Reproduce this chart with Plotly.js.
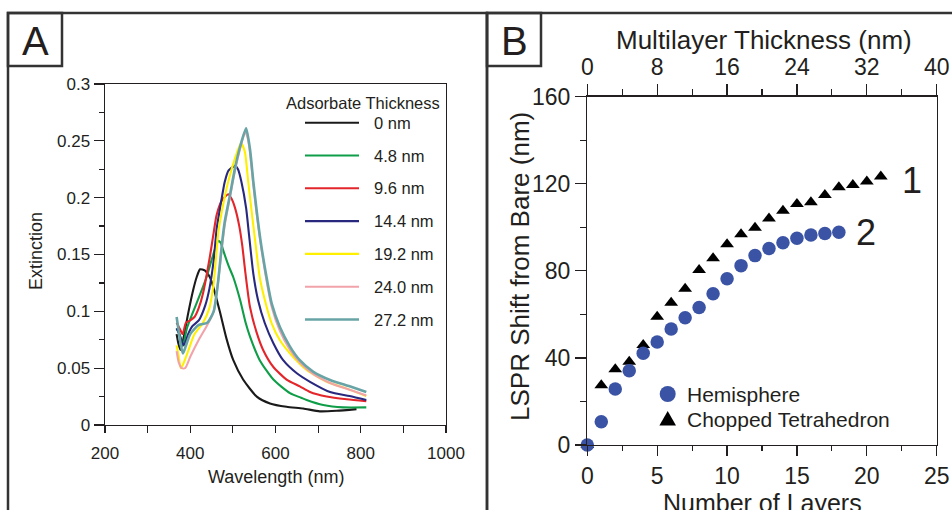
<!DOCTYPE html>
<html><head><meta charset="utf-8">
<script src="https://cdn.plot.ly/plotly-3.0.1.min.js"></script>
<style>html,body{margin:0;padding:0;background:#fff;}#chart{width:952px;height:510px;}</style>
</head><body><div id="chart"></div>
<script>
// ---------- Panel A: extinction spectra ----------
const seriesNames = ['0 nm','4.8 nm','9.6 nm','14.4 nm','19.2 nm','24.0 nm','27.2 nm'];
const seriesColors = ['#1a1a1a','#0f9d48','#e3262b','#28287f','#fff000','#f2a3aa','#68a4a6'];

const wl0  = [368,372,377,385,395,407,415,423,434,446,452,458,470,485,501,524,556,587,626,665,704,743,790];
const ext0 = [0.080,0.072,0.066,0.078,0.098,0.119,0.130,0.137,0.136,0.130,0.124,0.116,0.099,0.076,0.057,0.040,0.025,0.019,0.016,0.0145,0.012,0.0125,0.014];

const wl1  = [368,375,383,392,405,420,438,454,466,472,477,490,501,517,530,540,563,595,634,660,673,712,759,813];
const ext1 = [0.085,0.080,0.070,0.085,0.098,0.112,0.130,0.150,0.162,0.160,0.154,0.140,0.130,0.110,0.090,0.078,0.057,0.040,0.028,0.024,0.022,0.0176,0.0155,0.0155];

const wl2  = [368,375,382,390,400,410,420,430,446,454,462,475,489,497,505,515,522,529,540,556,571,595,626,657,681,720,767,813];
const ext2 = [0.090,0.085,0.080,0.090,0.092,0.095,0.103,0.116,0.148,0.167,0.185,0.198,0.203,0.199,0.191,0.175,0.158,0.135,0.104,0.081,0.066,0.051,0.040,0.034,0.029,0.025,0.0226,0.021];

const wl3  = [368,374,385,395,405,420,435,445,455,462,470,481,490,505,512,520,531,538,548,559,575,595,618,650,681,728,774,813];
const ext3 = [0.085,0.080,0.070,0.080,0.087,0.092,0.105,0.120,0.145,0.173,0.191,0.214,0.224,0.228,0.225,0.214,0.191,0.167,0.133,0.110,0.0895,0.072,0.057,0.0455,0.038,0.029,0.0255,0.022];

const wl4  = [368,373,378,385,395,410,430,445,455,466,477,489,505,519,528,536,544,552,563,575,591,610,641,673,720,767,813];
const ext4 = [0.070,0.060,0.050,0.055,0.065,0.080,0.090,0.103,0.125,0.170,0.1935,0.214,0.2346,0.248,0.2405,0.214,0.188,0.163,0.130,0.110,0.0895,0.0748,0.060,0.0484,0.038,0.032,0.0255];

const wl5  = [368,373,380,388,400,420,440,455,465,474,481,493,505,517,529,535,540,548,556,565,579,591,610,634,657,688,728,774,813];
const ext5 = [0.065,0.055,0.050,0.050,0.060,0.075,0.088,0.100,0.125,0.155,0.176,0.200,0.224,0.243,0.258,0.252,0.240,0.211,0.185,0.160,0.127,0.104,0.083,0.066,0.055,0.045,0.037,0.031,0.026];

const wl6  = [368,372,378,383,390,400,420,440,455,465,474,481,493,505,517,531,540,548,556,565,579,591,610,634,657,688,728,774,813];
const ext6 = [0.095,0.085,0.070,0.063,0.070,0.080,0.088,0.090,0.100,0.125,0.158,0.179,0.202,0.226,0.245,0.261,0.243,0.214,0.188,0.162,0.130,0.107,0.0865,0.069,0.057,0.047,0.0396,0.034,0.029];

const aXTicks = [200,400,600,800,1000];
const aXLabels = ['200','400','600','800','1000'];
const aYTicks = [0,0.05,0.1,0.15,0.2,0.25,0.3];
const aYLabels = ['0','0.05','0.1','0.15','0.2','0.25','0.3'];

// ---------- Panel B: LSPR shift ----------
const layersHemi = [0,1,2,3,4,5,6,7,8,9,10,11,12,13,14,15,16,17,18];
const shiftHemi  = [0,10.7,25.7,34.1,42.1,47.3,53.3,58.5,63.2,69.5,76.4,82.4,87.0,90.3,92.9,95.0,96.5,97.2,97.7];
const layersTetra = [0,1,2,3,4,5,6,7,8,9,10,11,12,13,14,15,16,17,18,19,20,21];
const shiftTetra  = [0,27.4,34.8,38.3,45.9,58.9,65.4,71.8,80.4,85.8,92.2,96.8,99.8,104.1,107.6,110.7,111.5,114.8,118.4,119.4,121.0,123.3];

const bXTicks = [0,5,10,15,20,25];
const bYTicks = [0,40,80,120,160];
const bTopTicks = [0,8,16,24,32,40];

// ---------- build ----------
const W = 952, H = 510;
const X = p => p / W, Y = p => 1 - p / H;
const ink = '#231f20';
const FONT = 'Liberation Sans, Arial, sans-serif';

const wls = [wl0,wl1,wl2,wl3,wl4,wl5,wl6];
const exts = [ext0,ext1,ext2,ext3,ext4,ext5,ext6];
const traces = [];
for (let i = 0; i < seriesNames.length; i++) {
  traces.push({type:'scatter', mode:'lines', name:seriesNames[i], x:wls[i], y:exts[i],
    xaxis:'x', yaxis:'y', line:{color:seriesColors[i], width: i===6 ? 2.6 : 2.1, shape:'spline', smoothing:0.6}, hoverinfo:'skip'});
}
traces.push({type:'scatter', mode:'markers', name:'Chopped Tetrahedron', x:layersTetra, y:shiftTetra,
  xaxis:'x2', yaxis:'y2', cliponaxis:false, marker:{symbol:'triangle-up', size:12, color:'#000'}});
traces.push({type:'scatter', mode:'markers', name:'Hemisphere', x:layersHemi, y:shiftHemi,
  xaxis:'x2', yaxis:'y2', cliponaxis:false, marker:{symbol:'circle', size:13.5, color:'#3a53a4'}});
traces.push({type:'scatter', mode:'markers', x:[], y:[], xaxis:'x3', yaxis:'y2', showlegend:false});

const axBase = {showline:true, linecolor:ink, linewidth:1.4, ticks:'outside', tickcolor:ink, tickwidth:1.2,
  showgrid:false, zeroline:false, fixedrange:true};

const annotations = [];
const shapes = [];
function txt(t, x, y, size, opts) {
  annotations.push(Object.assign({text:t, x:X(x), y:Y(y), xref:'paper', yref:'paper', showarrow:false,
    xanchor:'center', yanchor:'middle', font:{size:size, color:ink, family:FONT}}, opts || {}));
}
// panel frames
shapes.push({type:'rect', xref:'paper', yref:'paper', x0:X(8), x1:X(487), y0:Y(13), y1:Y(530), line:{color:'#333', width:2.5}});
shapes.push({type:'rect', xref:'paper', yref:'paper', x0:X(487), x1:X(970), y0:Y(13), y1:Y(530), line:{color:'#333', width:2.5}});
shapes.push({type:'rect', xref:'paper', yref:'paper', x0:X(8), x1:X(62), y0:Y(13), y1:Y(66), line:{color:'#333', width:2.5}});
shapes.push({type:'rect', xref:'paper', yref:'paper', x0:X(487), x1:X(541), y0:Y(13), y1:Y(66), line:{color:'#333', width:2.5}});
txt('A', 35, 41, 40);
txt('B', 514, 41, 40);

// axis titles
txt('Extinction', 36, 251, 18, {textangle:-90});
txt('Wavelength (nm)', 275.5, 477, 18);
txt('LSPR Shift from Bare (nm)', 520, 267, 26, {textangle:-90});
txt('Multilayer Thickness (nm)', 763.5, 40, 26);
txt('Number of Layers', 762, 503, 25);
txt('1', 912, 180, 36);
txt('2', 866, 233, 36);

// legend A
txt('Adsorbate Thickness', 362.5, 103, 16.5);
for (let i = 0; i < seriesNames.length; i++) {
  const yy = 122.7 + i * 32.8;
  shapes.push({type:'line', xref:'paper', yref:'paper', x0:X(305), x1:X(359), y0:Y(yy), y1:Y(yy),
    line:{color:seriesColors[i], width: i===6 ? 2.6 : 2.1}});
  txt(seriesNames[i], 372, yy, 16.5, {xanchor:'left'});
}
// legend B
shapes.push({type:'circle', xref:'paper', yref:'paper', x0:X(659.7), x1:X(675.7), y0:Y(402), y1:Y(386),
  fillcolor:'#3a53a4', line:{width:0}});
shapes.push({type:'path', xref:'paper', yref:'paper',
  path:`M ${X(667.7)} ${Y(411)} L ${X(676)} ${Y(425.5)} L ${X(659.4)} ${Y(425.5)} Z`,
  fillcolor:'#000', line:{width:0}});
txt('Hemisphere', 685, 394, 21, {xanchor:'left'});
txt('Chopped Tetrahedron', 685, 419, 21, {xanchor:'left'});

const layout = {
  width:W, height:H, margin:{l:0,r:0,t:0,b:0}, showlegend:false,
  paper_bgcolor:'#fff', plot_bgcolor:'rgba(0,0,0,0)',
  font:{family:FONT, color:ink},
  xaxis:Object.assign({}, axBase, {domain:[X(105),X(446)], range:[200,1000], anchor:'y', mirror:true,
    tickmode:'array', tickvals:aXTicks, ticktext:aXLabels, ticklen:7, ticklabelstandoff:5, tickfont:{size:17, color:ink},
    minor:{dtick:100, tick0:200, ticklen:7, ticks:'outside', tickcolor:ink, tickwidth:1.2}}),
  yaxis:Object.assign({}, axBase, {domain:[Y(425),Y(84)], range:[0,0.3], anchor:'x', mirror:true,
    tickmode:'array', tickvals:aYTicks, ticktext:aYLabels, ticklen:10, tickfont:{size:17, color:ink},
    minor:{dtick:0.025, tick0:0, ticklen:5, ticks:'outside', tickcolor:ink, tickwidth:1.2}}),
  xaxis2:Object.assign({}, axBase, {domain:[X(587.3),X(936.7)], range:[0,25], anchor:'y2',
    tickmode:'array', tickvals:bXTicks, ticklen:10, tickfont:{size:23, color:ink},
    minor:{dtick:2.5, tick0:0, ticklen:5, ticks:'outside', tickcolor:ink, tickwidth:1.2}}),
  xaxis3:Object.assign({}, axBase, {domain:[X(587.3),X(936.7)], range:[0,40], anchor:'y2', overlaying:'x2', side:'top',
    tickmode:'array', tickvals:bTopTicks, ticklen:11, tickfont:{size:23, color:ink},
    minor:{dtick:4, tick0:0, ticklen:6, ticks:'outside', tickcolor:ink, tickwidth:1.2}}),
  yaxis2:Object.assign({}, axBase, {domain:[Y(445),Y(96.7)], range:[0,160], anchor:'x2', mirror:true,
    tickmode:'array', tickvals:bYTicks, ticklen:11, tickfont:{size:23, color:ink},
    minor:{dtick:20, tick0:0, ticklen:6, ticks:'outside', tickcolor:ink, tickwidth:1.2}}),
  shapes:shapes, annotations:annotations
};
Plotly.newPlot('chart', traces, layout, {staticPlot:true, displayModeBar:false});
</script>
</body></html>
